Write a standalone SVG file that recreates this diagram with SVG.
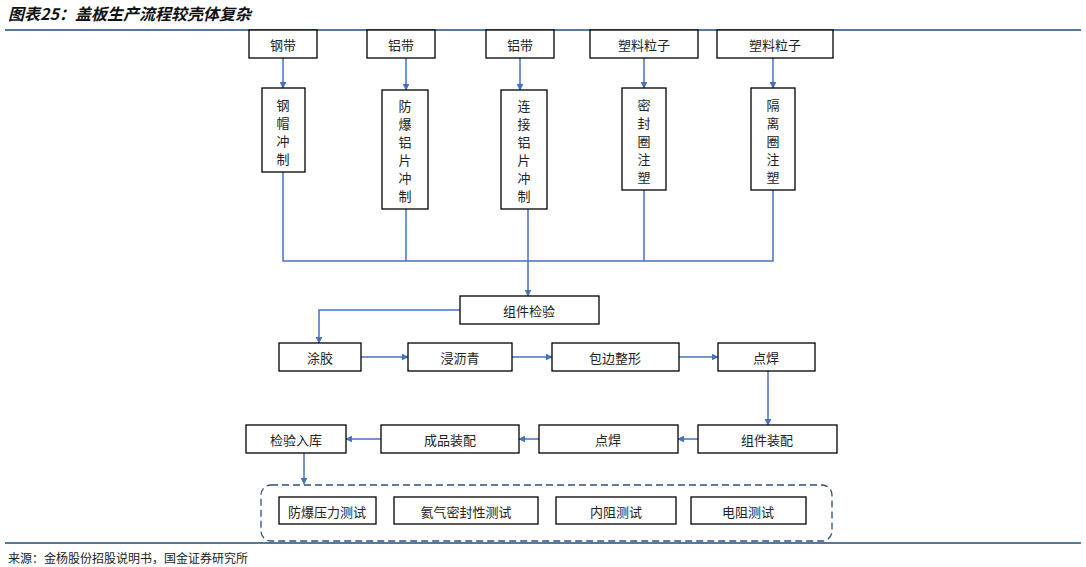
<svg xmlns="http://www.w3.org/2000/svg" width="1086" height="567" viewBox="0 0 1086 567">
<style>
.b{fill:#fff;stroke:#000;stroke-width:1.3}
.t{font-family:"Noto Sans CJK SC",sans-serif;font-size:13px;fill:#222;text-anchor:middle;dominant-baseline:central}
.c{fill:none;stroke:#4472C4;stroke-width:1.5}
</style>
<defs><marker id="a" viewBox="0 0 10 10" refX="9" refY="5" markerWidth="4.5" markerHeight="4.5" orient="auto"><path d="M0,0L10,5L0,10z" fill="#4472C4"/></marker></defs>
<rect width="1086" height="567" fill="#fff"/>
<text x="8" y="20" font-family="'Noto Sans CJK SC',sans-serif" font-size="16" font-weight="bold" font-style="italic" fill="#111">图表25：盖板生产流程较壳体复杂</text>
<line x1="5" y1="30" x2="1081" y2="30" stroke="#1F4E79" stroke-width="1.5"/>
<line x1="5" y1="543" x2="1081" y2="543" stroke="#1F4E79" stroke-width="1.5"/>
<text x="8" y="557" font-family="'Noto Sans CJK SC',sans-serif" font-size="12" fill="#222" dominant-baseline="central">来源：金杨股份招股说明书，国金证券研究所</text>
<g id="connectors">
<path class="c" d="M283,58V88" marker-end="url(#a)"/>
<path class="c" d="M406,58V90" marker-end="url(#a)"/>
<path class="c" d="M520,58V90" marker-end="url(#a)"/>
<path class="c" d="M644,58V88" marker-end="url(#a)"/>
<path class="c" d="M773,58V88" marker-end="url(#a)"/>
<path class="c" d="M283,172V261H773V190M406,209V261M528,209V261M644,190V261"/>
<path class="c" d="M528,261V296" marker-end="url(#a)"/>
<path class="c" d="M460,310H319V343" marker-end="url(#a)"/>
<path class="c" d="M361,357H408" marker-end="url(#a)"/>
<path class="c" d="M512,357H552" marker-end="url(#a)"/>
<path class="c" d="M679,357H718" marker-end="url(#a)"/>
<path class="c" d="M768,371V425" marker-end="url(#a)"/>
<path class="c" d="M698,439H678" marker-end="url(#a)"/>
<path class="c" d="M539,439H519" marker-end="url(#a)"/>
<path class="c" d="M381,439H346" marker-end="url(#a)"/>
<path class="c" d="M304,453V484" marker-end="url(#a)"/>
</g>
<g id="n1"><rect class="b" x="249" y="30" width="68" height="28"/><text class="t" x="283" y="44">钢带</text></g>
<g id="n2"><rect class="b" x="367" y="30" width="68" height="28"/><text class="t" x="401" y="44">铝带</text></g>
<g id="n3"><rect class="b" x="486" y="30" width="68" height="28"/><text class="t" x="520" y="44">铝带</text></g>
<g id="n4"><rect class="b" x="590" y="30" width="108" height="28"/><text class="t" x="644" y="44">塑料粒子</text></g>
<g id="n5"><rect class="b" x="717" y="30" width="116" height="28"/><text class="t" x="775" y="44">塑料粒子</text></g>
<g id="n6"><rect class="b" x="262" y="88" width="43" height="84"/><text class="t" x="283"><tspan x="283" y="104">钢</tspan><tspan x="283" y="122">帽</tspan><tspan x="283" y="140">冲</tspan><tspan x="283" y="158">制</tspan></text></g>
<g id="n7"><rect class="b" x="382" y="90" width="46" height="119"/><text class="t"><tspan x="405" y="105">防</tspan><tspan x="405" y="123">爆</tspan><tspan x="405" y="141">铝</tspan><tspan x="405" y="159">片</tspan><tspan x="405" y="177">冲</tspan><tspan x="405" y="195">制</tspan></text></g>
<g id="n8"><rect class="b" x="501" y="90" width="46" height="119"/><text class="t"><tspan x="524" y="105">连</tspan><tspan x="524" y="123">接</tspan><tspan x="524" y="141">铝</tspan><tspan x="524" y="159">片</tspan><tspan x="524" y="177">冲</tspan><tspan x="524" y="195">制</tspan></text></g>
<g id="n9"><rect class="b" x="622" y="88" width="44" height="102"/><text class="t"><tspan x="644" y="104">密</tspan><tspan x="644" y="122">封</tspan><tspan x="644" y="140">圈</tspan><tspan x="644" y="158">注</tspan><tspan x="644" y="176">塑</tspan></text></g>
<g id="n10"><rect class="b" x="751" y="88" width="44" height="102"/><text class="t"><tspan x="773" y="104">隔</tspan><tspan x="773" y="122">离</tspan><tspan x="773" y="140">圈</tspan><tspan x="773" y="158">注</tspan><tspan x="773" y="176">塑</tspan></text></g>
<g id="n11"><rect class="b" x="460" y="296" width="139" height="28"/><text class="t" x="529" y="310">组件检验</text></g>
<g id="n12"><rect class="b" x="279" y="343" width="82" height="28"/><text class="t" x="320" y="357">涂胶</text></g>
<g id="n13"><rect class="b" x="408" y="343" width="104" height="28"/><text class="t" x="460" y="357">浸沥青</text></g>
<g id="n14"><rect class="b" x="552" y="343" width="127" height="28"/><text class="t" x="615" y="357">包边整形</text></g>
<g id="n15"><rect class="b" x="718" y="343" width="97" height="28"/><text class="t" x="766" y="357">点焊</text></g>
<g id="n16"><rect class="b" x="698" y="425" width="139" height="28"/><text class="t" x="767" y="439">组件装配</text></g>
<g id="n17"><rect class="b" x="539" y="425" width="139" height="28"/><text class="t" x="608" y="439">点焊</text></g>
<g id="n18"><rect class="b" x="381" y="425" width="138" height="28"/><text class="t" x="450" y="439">成品装配</text></g>
<g id="n19"><rect class="b" x="246" y="425" width="100" height="28"/><text class="t" x="296" y="439">检验入库</text></g>
<g id="group"><rect x="261" y="485" width="571" height="56" rx="10" fill="none" stroke="#2F4F7F" stroke-width="1.3" stroke-dasharray="7,4"/></g>
<g id="n20"><rect class="b" x="279" y="497" width="97" height="27"/><text class="t" x="327" y="511">防爆压力测试</text></g>
<g id="n21"><rect class="b" x="394" y="497" width="144" height="27"/><text class="t" x="466" y="511">氦气密封性测试</text></g>
<g id="n22"><rect class="b" x="556" y="497" width="120" height="27"/><text class="t" x="616" y="511">内阻测试</text></g>
<g id="n23"><rect class="b" x="691" y="497" width="115" height="27"/><text class="t" x="748" y="511">电阻测试</text></g>
</svg>
